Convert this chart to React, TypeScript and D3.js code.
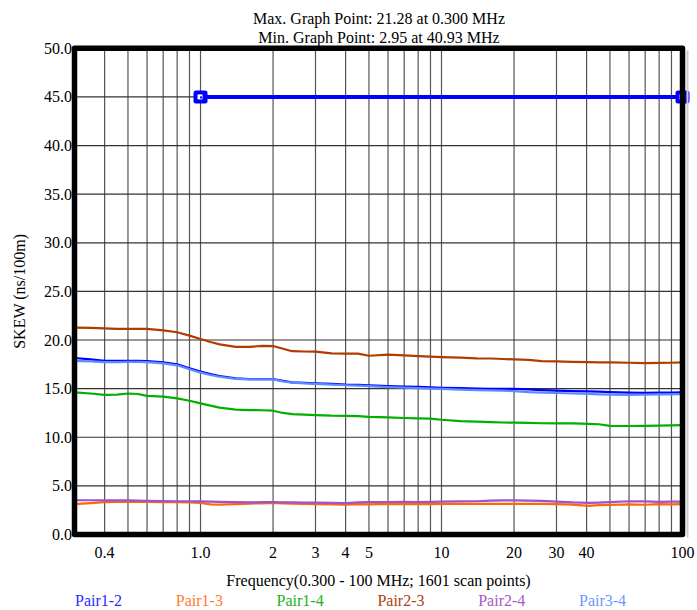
import React from "react";
import * as d3 from "d3";

const freqs = [0.3, 0.35, 0.4, 0.45, 0.5, 0.55, 0.6, 0.7, 0.8, 0.9, 1.0, 1.1, 1.2, 1.4, 1.6, 1.8, 2.0, 2.2, 2.4, 2.7, 3.0, 3.5, 4, 4.5, 5, 6, 7, 8, 9, 10, 12, 14, 16, 18, 20, 23, 26, 30, 35, 40.93, 45, 50, 60, 70, 80, 90, 100];

const pair12 = [18.15, 18.0, 17.85, 17.85, 17.85, 17.85, 17.82, 17.7, 17.5, 17.1, 16.75, 16.5, 16.3, 16.05, 15.98, 15.98, 15.98, 15.8, 15.65, 15.6, 15.55, 15.5, 15.42, 15.4, 15.35, 15.27, 15.22, 15.18, 15.12, 15.08, 15.05, 15.0, 14.97, 14.97, 14.97, 14.92, 14.85, 14.8, 14.75, 14.72, 14.7, 14.65, 14.6, 14.56, 14.58, 14.6, 14.62];
const pair13 = [3.12, 3.22, 3.32, 3.34, 3.34, 3.34, 3.35, 3.33, 3.32, 3.3, 3.25, 3.1, 3.08, 3.12, 3.18, 3.2, 3.25, 3.2, 3.18, 3.15, 3.12, 3.1, 3.08, 3.12, 3.1, 3.15, 3.12, 3.14, 3.12, 3.15, 3.14, 3.15, 3.14, 3.15, 3.15, 3.14, 3.14, 3.12, 3.08, 2.95, 3.02, 3.05, 3.1, 3.06, 3.12, 3.1, 3.13];
const pair14 = [14.62, 14.5, 14.35, 14.38, 14.5, 14.45, 14.25, 14.18, 14.0, 13.75, 13.48, 13.25, 13.05, 12.85, 12.8, 12.78, 12.73, 12.5, 12.38, 12.32, 12.28, 12.22, 12.2, 12.18, 12.1, 12.05, 11.98, 11.94, 11.92, 11.8, 11.65, 11.6, 11.55, 11.52, 11.5, 11.48, 11.44, 11.42, 11.42, 11.38, 11.34, 11.18, 11.16, 11.18, 11.2, 11.22, 11.25];
const pair23 = [21.28, 21.25, 21.2, 21.15, 21.15, 21.15, 21.15, 21.0, 20.8, 20.45, 20.1, 19.8, 19.55, 19.3, 19.3, 19.4, 19.38, 19.1, 18.85, 18.82, 18.8, 18.62, 18.6, 18.6, 18.38, 18.5, 18.42, 18.35, 18.3, 18.25, 18.18, 18.12, 18.1, 18.05, 18.0, 17.96, 17.82, 17.8, 17.75, 17.72, 17.7, 17.7, 17.66, 17.62, 17.65, 17.66, 17.7];
const pair24 = [3.52, 3.52, 3.5, 3.5, 3.5, 3.48, 3.46, 3.44, 3.42, 3.42, 3.4, 3.38, 3.35, 3.32, 3.3, 3.32, 3.32, 3.3, 3.3, 3.28, 3.28, 3.26, 3.22, 3.3, 3.32, 3.34, 3.36, 3.34, 3.36, 3.38, 3.4, 3.42, 3.48, 3.5, 3.5, 3.48, 3.45, 3.38, 3.3, 3.26, 3.28, 3.32, 3.42, 3.4, 3.36, 3.38, 3.38];
const pair34 = [17.85, 17.8, 17.72, 17.72, 17.75, 17.75, 17.72, 17.6, 17.4, 17.0, 16.65, 16.4, 16.22, 16.0, 15.95, 15.95, 15.95, 15.75, 15.62, 15.55, 15.5, 15.42, 15.35, 15.3, 15.25, 15.15, 15.1, 15.05, 15.0, 14.97, 14.9, 14.85, 14.82, 14.8, 14.75, 14.65, 14.6, 14.55, 14.5, 14.47, 14.42, 14.38, 14.35, 14.38, 14.4, 14.42, 14.45];

const seriesNames = ["Pair1-2", "Pair1-3", "Pair1-4", "Pair2-3", "Pair2-4", "Pair3-4"];
const seriesValues = [pair12, pair13, pair14, pair23, pair24, pair34];
const lineColors = ["#0000ff", "#ff6a00", "#00b000", "#b03c00", "#a050d0", "#5b8cff"];
const legendColors = ["#2a2aff", "#ff7a30", "#22b022", "#b0400e", "#a658c8", "#6a98ff"];

const limitFreqs = [1.0, 100];
const limitValues = [45, 45];

const yTicks = [0, 5, 10, 15, 20, 25, 30, 35, 40, 45, 50];
const xGrid = [0.4, 0.5, 0.6, 0.7, 0.8, 0.9, 1, 2, 3, 4, 5, 6, 7, 8, 9, 10, 20, 30, 40, 50, 60, 70, 80, 90];
const xTickVals = [0.4, 1.0, 2, 3, 4, 5, 10, 20, 30, 40, 100];
const xTickLabels = ["0.4", "1.0", "2", "3", "4", "5", "10", "20", "30", "40", "100"];

const titleLines = ["Max. Graph Point: 21.28 at 0.300 MHz", "Min. Graph Point: 2.95 at 40.93 MHz"];
const xTitle = "Frequency(0.300 - 100 MHz; 1601 scan points)";
const yTitle = "SKEW (ns/100m)";

export default function App() {
  const W = 697, H = 610;
  const L = 74.5, R = 682.5, T = 48.3, B = 534.5;
  const x = d3.scaleLog().domain([0.3, 100]).range([L, R]);
  const y = d3.scaleLinear().domain([0, 50]).range([B, T]);
  const line = d3.line<[number, number]>().x((d) => x(d[0])).y((d) => y(d[1]));
  const ts: React.CSSProperties = { fontFamily: '"Times New Roman", Times, Tinos, "Liberation Serif", "Noto Serif", "DejaVu Serif", FreeSerif, "Nimbus Roman", serif', fontSize: "16px" };
  const limitPts: [number, number][] = limitFreqs.map((f, i) => [f, limitValues[i]]);

  return (
    <svg width={W} height={H} style={{ position: "absolute", left: 0, top: 0, background: "#fff" }}>
      <rect x={0} y={0} width={W} height={H} fill="#fff" />
      {titleLines.map((t, i) => (
        <text key={t} x={379} y={24 + i * 19} textAnchor="middle" style={ts} fill="#000">{t}</text>
      ))}
      {/* grid */}
      {xGrid.map((f) => (
        <line key={"gx" + f} x1={x(f)} x2={x(f)} y1={T} y2={B} stroke="#555" strokeWidth={1.2} />
      ))}
      {yTicks.map((v) => (
        <line key={"gy" + v} x1={L} x2={R} y1={y(v)} y2={y(v)} stroke="#333" strokeWidth={1.2} />
      ))}
      {/* series */}
      {seriesValues.map((vals, i) => (
        <path key={seriesNames[i]} d={line(freqs.map((f, j) => [f, vals[j]] as [number, number])) || ""} fill="none" stroke={lineColors[i]} strokeWidth={2.2} strokeLinejoin="round" />
      ))}
      {/* limit line */}
      <path d={line(limitPts) || ""} fill="none" stroke="#0000ff" strokeWidth={4} />
      {limitPts.map((p, i) => (
        <g key={"m" + i} transform={`translate(${x(p[0])},${y(p[1])})`}>
          <rect x={-7} y={-6.5} width={14} height={13} rx={2.5} fill="#0000ff" />
          <rect x={-3} y={-2.5} width={5} height={5} fill="#fff" />
          <rect x={-0.5} y={-0.5} width={2} height={2} fill="#0000ff" />
        </g>
      ))}
      {/* frame */}
      <line x1={R + 5} x2={R + 5} y1={T + 2} y2={B + 3} stroke="#ccc" strokeWidth={2} />
      <rect x={L} y={T} width={R - L} height={B - T} fill="none" stroke="#000" strokeWidth={5.5} strokeLinejoin="round" />
      {/* y labels */}
      {yTicks.map((v) => (
        <text key={"yl" + v} x={L - 2.5} y={y(v) + 5.5} textAnchor="end" style={ts} fill="#000">{v.toFixed(1)}</text>
      ))}
      {/* x labels */}
      {xTickVals.map((f, i) => (
        <text key={"xl" + f} x={x(f)} y={558} textAnchor="middle" style={ts} fill="#000">{xTickLabels[i]}</text>
      ))}
      <text x={(L + R) / 2} y={586} textAnchor="middle" style={ts} fill="#000">{xTitle}</text>
      <text transform={`translate(25,${(T + B) / 2}) rotate(-90)`} textAnchor="middle" style={ts} fill="#000">{yTitle}</text>
      {/* legend */}
      {seriesNames.map((n, i) => (
        <text key={"lg" + n} x={75 + i * 100.8} y={606} style={ts} fill={legendColors[i]}>{n}</text>
      ))}
    </svg>
  );
}
